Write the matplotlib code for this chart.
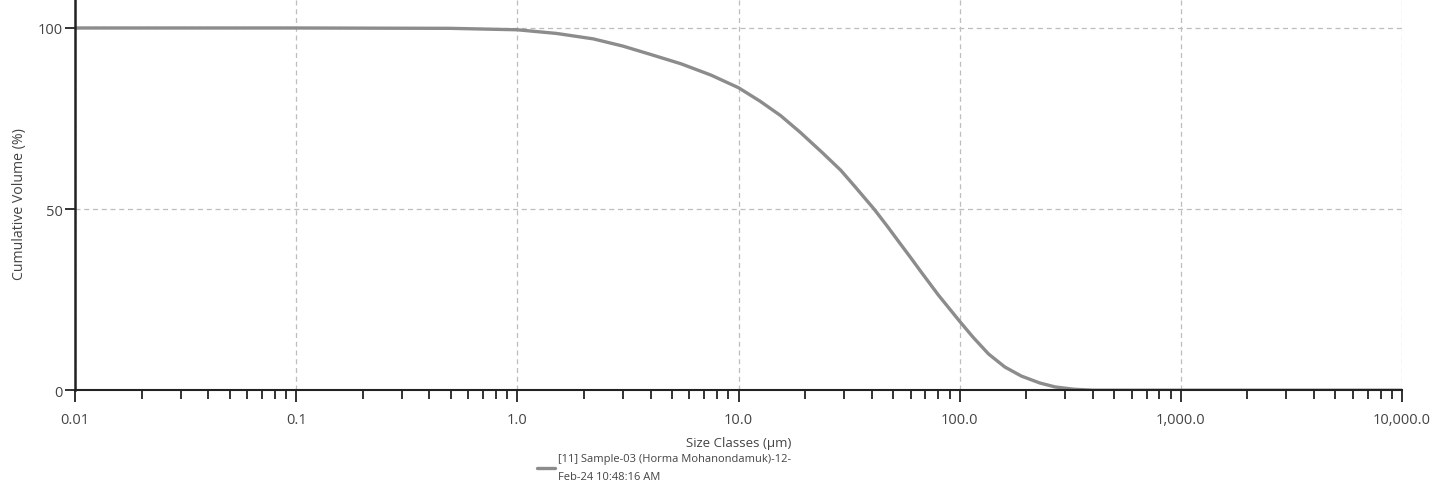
import numpy as np
import matplotlib.pyplot as plt
from matplotlib.ticker import FixedLocator, LogLocator, NullFormatter

# data
size_um = [0.01, 0.1, 0.5, 1.0, 1.5, 2.2, 3.0, 4.0, 5.5, 7.5, 10.0, 12.5, 15.5, 19.0, 24.0, 29.0, 33.5,
           41.0, 47.0, 53.0, 60.0, 67.0, 80.0, 100.0, 115.0, 135.0, 160.0, 190.0, 230.0, 270.0, 330.0,
           400.0, 1000.0, 10000.0]
cum_vol = [100.0, 100.0, 99.9, 99.5, 98.5, 97.0, 95.0, 92.7, 90.1, 87.0, 83.5, 79.8, 75.8, 71.2, 65.5, 60.7, 56.3,
           50.0, 45.3, 41.0, 36.6, 32.6, 26.3, 19.0, 14.6, 10.0, 6.4, 3.9, 2.0, 0.9, 0.25,
           0.0, 0.0, 0.0]
xticks = [0.01, 0.1, 1.0, 10.0, 100.0, 1000.0, 10000.0]
xtick_labels = ['0.01', '0.1', '1.0', '10.0', '100.0', '1,000.0', '10,000.0']
yticks = [0, 50, 100]
series_label = '[11] Sample-03 (Horma Mohanondamuk)-12-\nFeb-24 10:48:16 AM'

plt.rcParams['font.family'] = ['Open Sans', 'DejaVu Sans']
txt = '#444444'

fig = plt.figure(figsize = (14.49, 4.89), dpi = 100)
ax = fig.add_axes([0.0518, 0.2, 0.9158, 0.8])

line, = ax.plot(size_um, cum_vol, color = '#8c8c8c', lw = 2.4, solid_capstyle = 'round', solid_joinstyle = 'round')

ax.set_xscale('log')
ax.set_xlim(0.01, 10000)
ax.set_ylim(0, 108)

ax.xaxis.set_major_locator(FixedLocator(xticks))
ax.set_xticklabels(xtick_labels)
ax.xaxis.set_minor_locator(LogLocator(base = 10, subs = np.arange(2, 10)))
ax.xaxis.set_minor_formatter(NullFormatter())
ax.set_yticks(yticks)

ax.grid(True, which = 'major', color = '#bdbdbd', ls = (0, (4, 3)), lw = 0.9)
ax.set_axisbelow(True)

for s in ['top', 'right']:
    ax.spines[s].set_visible(False)
ax.spines['left'].set_linewidth(1.8)
ax.spines['bottom'].set_linewidth(1.5)
ax.spines['left'].set_color('#222222')
ax.spines['bottom'].set_color('#222222')

ax.tick_params(axis = 'x', which = 'major', direction = 'out', length = 8.5, width = 1.3, color = '#222222', labelsize = 10.5, labelcolor = txt, pad = 7)
ax.tick_params(axis = 'x', which = 'minor', direction = 'out', length = 6.5, width = 1.3, color = '#222222')
ax.tick_params(axis = 'y', direction = 'out', length = 7, width = 1.3, color = '#222222', labelsize = 10.5, labelcolor = txt, pad = 2)

ax.set_xlabel('Size Classes (µm)', fontsize = 9.5, color = txt)
ax.set_ylabel('Cumulative Volume (%)', fontsize = 10.2, color = txt)
ax.yaxis.set_label_coords(-0.036, 0.478)
ax.xaxis.set_label_coords(0.5, -0.118)

leg = fig.legend([line], [series_label], loc = 'upper left', bbox_to_anchor = (0.3706, 0.071),
                 frameon = False, fontsize = 8.0, handlelength = 1.6, handletextpad = 0.3,
                 labelcolor = txt, borderaxespad = 0, borderpad = 0)
for t in leg.get_texts():
    t.set_linespacing(1.9)

plt.savefig('out.png', dpi = 100)
